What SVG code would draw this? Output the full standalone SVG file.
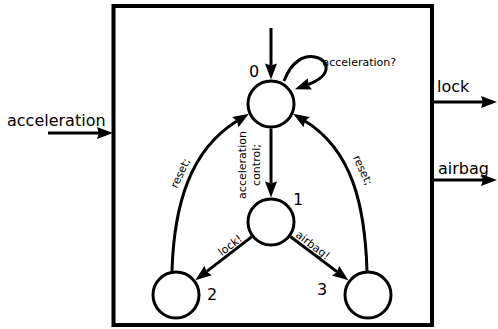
<svg xmlns="http://www.w3.org/2000/svg" width="498" height="329" viewBox="0 0 498 329">
<style>
.st{fill:#fff;stroke:#000;stroke-width:3}
.ln{fill:none;stroke:#000;stroke-width:3;marker-end:url(#ah)}
.t{font-family:"DejaVu Sans",Verdana,sans-serif;fill:#000}
.big{font-size:16px}
.sm{font-size:11px}
.num{font-size:16px}
</style>
<defs>
<marker id="ah" markerUnits="userSpaceOnUse" markerWidth="16" markerHeight="12" refX="2" refY="6" orient="auto" overflow="visible">
<path d="M0,0 L16,6 L0,12 L2,6 Z" fill="#000"/>
</marker>
</defs>
<rect width="498" height="329" fill="#fff"/>
<g id="automaton">
<rect x="113.5" y="6" width="318.5" height="319" fill="none" stroke="#000" stroke-width="4"/>
</g>
<g id="connectors">
<path class="ln" d="M48 133 H99"/>
<path class="ln" d="M432 102 H483"/>
<path class="ln" d="M432 180 H483"/>
<path class="ln" d="M271 28 V65.5"/>
<path class="ln" d="M284 81 C292 60 305 55 315 57 C330 60 332 76 308 84.5"/>
<path class="ln" d="M271 128.5 V183.5"/>
<path class="ln" d="M251.6 236.9 L206.5 271.6"/>
<path class="ln" d="M290.6 236.7 L337.2 271.9"/>
<path class="ln" d="M172 271 C174 205 190 150 237 121"/>
<path class="ln" d="M367 271 C365 205 352 150 305 121"/>
</g>
<g id="s0"><circle class="st" cx="271" cy="104" r="23"/><text class="t num" x="249" y="77" font-size="17">0</text></g>
<g id="s1"><circle class="st" cx="271" cy="222" r="23"/><text class="t num" x="293" y="205">1</text></g>
<g id="s2"><circle class="st" cx="176" cy="295" r="23"/><text class="t num" x="207" y="300">2</text></g>
<g id="s3"><circle class="st" cx="368" cy="295" r="23"/><text class="t num" x="317" y="295">3</text></g>
<g id="labels">
<text class="t big" x="7" y="126">acceleration</text>
<text class="t big" x="437" y="92">lock</text>
<text class="t big" x="438" y="174">airbag</text>
<text class="t sm" x="322.5" y="65.5">acceleration?</text>
<text class="t sm" text-anchor="middle" transform="translate(246,165) rotate(-90)">acceleration</text>
<text class="t sm" text-anchor="middle" transform="translate(260,165) rotate(-90)">control;</text>
<text class="t sm" text-anchor="middle" transform="translate(230,245) rotate(-37.5)" y="4">lock!</text>
<text class="t sm" text-anchor="middle" transform="translate(313,245) rotate(37.5)" y="4">airbag!</text>
<text class="t sm" text-anchor="middle" transform="translate(180,173) rotate(-65)" y="4">reset;</text>
<text class="t sm" text-anchor="middle" transform="translate(363,170) rotate(65)" y="4">reset;</text>
</g>
</svg>
